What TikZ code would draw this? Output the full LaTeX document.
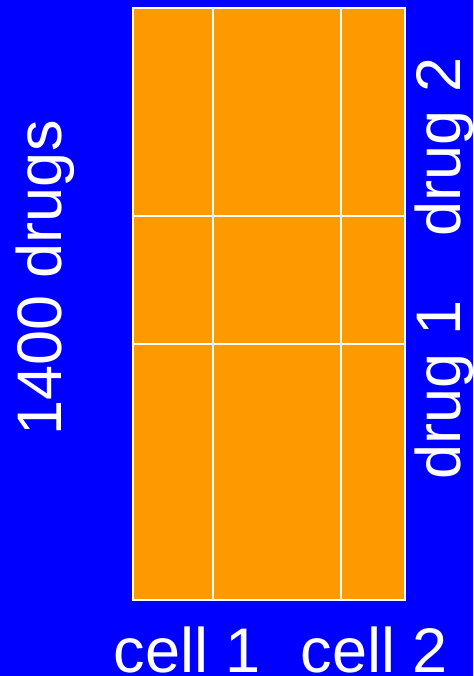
\documentclass[tikz,border=0pt]{standalone}
\usepackage{fontspec}
\setmainfont{Liberation Sans}
\definecolor{bgblue}{HTML}{0000FF}
\definecolor{cellorange}{HTML}{FF9900}
\newcommand{\bigfont}{\fontsize{63}{63}\selectfont}

\begin{document}
\begin{tikzpicture}[x=1pt,y=-1pt,
    cellbox/.style={fill=cellorange,draw=white,line width=2pt},
    whitetext/.style={text=white,font=\bigfont,inner sep=0pt,anchor=base}]
        % Background
        \fill[bgblue] (0,0) rectangle (473,676);
        \useasboundingbox (0,0) rectangle (473,676);

        % --- Grid of cells: drug rows x cell columns ---
        \foreach \ya/\yb in {8/216,216/344,344/600}
            \foreach \xa/\xb in {133/213,213/341,341/405}
                \draw[cellbox] (\xa,\ya) rectangle (\xb,\yb);

        % --- Side labels ---
        \node[whitetext,rotate=90] (alldrugs) at (61,278) {1400 drugs};
        \node[whitetext,rotate=90] (drugtwo) at (460,147) {drug 2};
        \node[whitetext,rotate=90] (drugone) at (460,390) {drug 1};

        % --- Bottom labels ---
        \node[whitetext] (cellone) at (187.5,672) {cell 1};
        \node[whitetext] (celltwo) at (374.5,672) {cell 2};
    \end{tikzpicture}
\end{document}
